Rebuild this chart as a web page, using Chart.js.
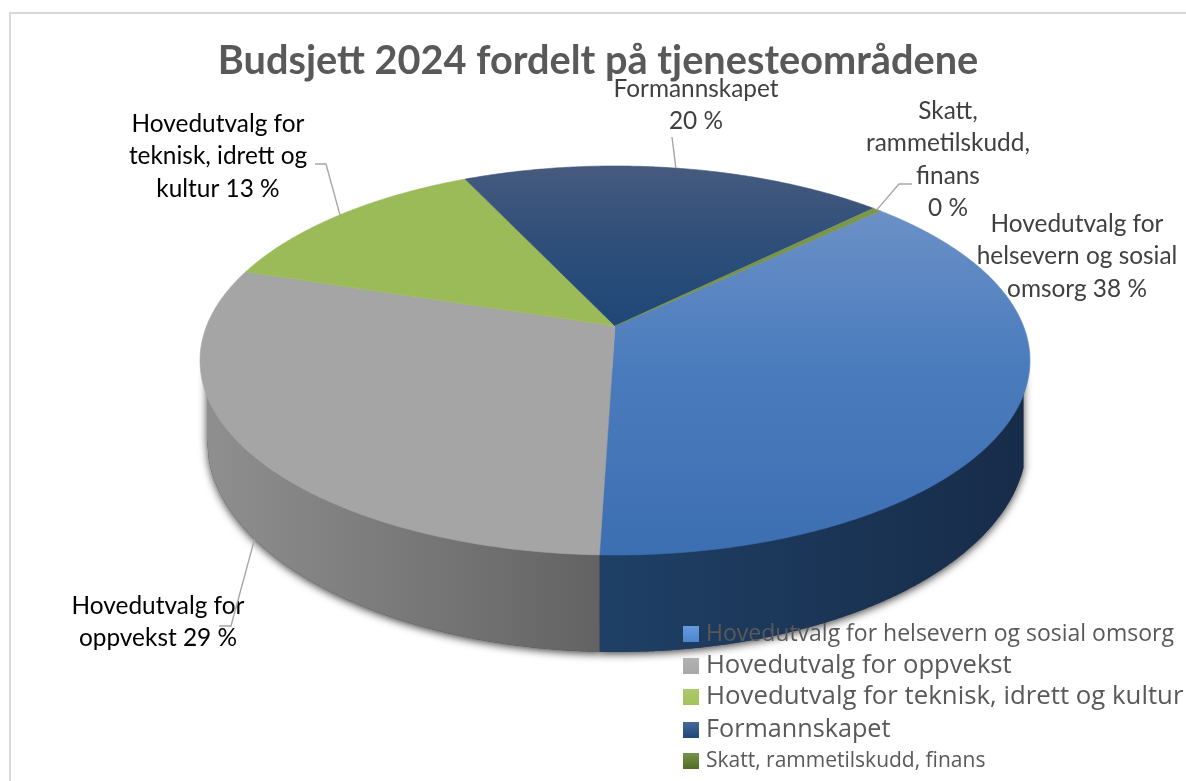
<!DOCTYPE html>
<html>
<head>
<meta charset="utf-8">
<style>
	html, body { margin: 0; padding: 0; background: #fff; overflow: hidden; }
	canvas { display: block; }
</style>
<script src="https://cdn.jsdelivr.net/npm/chart.js@4"></script>
</head>
<body>
<canvas id="myChart" width="1186" height="781"></canvas>
<script>
// the labels round them to whole percent
const categories = [
	"Hovedutvalg for helsevern og sosial omsorg",
	"Hovedutvalg for oppvekst",
	"Hovedutvalg for teknisk, idrett og kultur",
	"Formannskapet",
	"Skatt, rammetilskudd, finans",
];
const shares = [37.5, 29.4, 13.1, 19.6, 0.4];
const chartTitle = "Budsjett 2024 fordelt på tjenesteområdene";

const topColors = [
	["#6b90c6", "#4a7cbd", "#3c6eb2"],
	["#a5a5a5", "#a5a5a5", "#a5a5a5"],
	["#9bbb59", "#9bbb59", "#9bbb59"],
	["#465a7e", "#2f4f7a", "#1f4777"],
	["#7a9650", "#72903f", "#6a8a3f"],
];
const wallColors = [
	["#1f4066", "#172c49"],
	["#8f8f8f", "#636363"],
	["#6f8a3f", "#5a7030"],
	["#1f3f66", "#172c49"],
	["#4f6e23", "#4f6e23"],
];
const swatchColors = [
	["#659ae0", "#4d86cf"],
	["#b2b2b2", "#a8a8a8"],
	["#abc968", "#a3c45c"],
	["#46699c", "#1f4777"],
	["#76934a", "#4f6e23"],
];

// label text per slice, split the same way as in the picture
const labelLines = [
	["Hovedutvalg for", "helsevern og sosial", "omsorg"],
	["Hovedutvalg for", "oppvekst"],
	["Hovedutvalg for", "teknisk, idrett og", "kultur"],
	["Formannskapet"],
	["Skatt,", "rammetilskudd,", "finans"],
];
const labelX = [1077, 158, 218, 696, 948];
const labelY = [224, 606, 124, 89, 111];
const labelInk = ["#404040", "#000000", "#000000", "#404040", "#404040"];
// second point of the leader line and where it leaves the label, null for none
const elbows = [null, [231, 626, 219], [326, 164, 315], [672, 137, 672], [899, 184, 912]];

const legendFontSize = [23, 25.6, 25.8, 25.2, 21];
const legendY = [634, 666, 697, 730, 761];

// perspective of the top face: unit circle to picture
const top3d = { cx: 615, cy: 326, a: 408.4, b: 188.4, p: -0.1773 };
// lower edge of the wall
const rim = { cx: 617, cy: 440, rx: 410, ry: 212 };

function project(angle) {
	const x = Math.cos(angle);
	const y = Math.sin(angle);
	const w = 1 + top3d.p * y;
	return { x: top3d.cx + (top3d.a * x) / w, y: top3d.cy + (top3d.b * y) / w };
}

function rimY(x) {
	const u = Math.min(1, Math.abs(x - rim.cx) / rim.rx);
	return rim.cy + rim.ry * Math.sqrt(1 - u * u);
}

function wallPath(ctx, left, right) {
	ctx.beginPath();
	ctx.moveTo(left, 370);
	for (let x = left; x <= right; x += 2) ctx.lineTo(x, rimY(x));
	ctx.lineTo(right, rimY(right));
	ctx.lineTo(right, 370);
	ctx.closePath();
}

function wallSpan(arc) {
	// only the part of the rim that faces us
	const from = Math.max(arc.startAngle, 0);
	const to = Math.min(arc.endAngle, Math.PI);
	if (to <= from) return null;
	return {
		left: Math.max(project(to).x, rim.cx - rim.rx),
		right: Math.min(project(from).x, rim.cx + rim.rx),
	};
}

function drawWallShadow(ctx, arc) {
	const span = wallSpan(arc);
	if (!span) return;
	ctx.save();
	ctx.shadowColor = "rgba(0,0,0,0.75)";
	ctx.shadowBlur = 9;
	ctx.shadowOffsetY = 2;
	ctx.fillStyle = "#444";
	wallPath(ctx, span.left, span.right);
	ctx.fill();
	ctx.restore();
}

function drawWall(ctx, arc, i) {
	const span = wallSpan(arc);
	if (!span) return;
	const grad = ctx.createLinearGradient(span.left, 0, span.right, 0);
	grad.addColorStop(0, wallColors[i][0]);
	grad.addColorStop(1, wallColors[i][1]);
	ctx.fillStyle = grad;
	wallPath(ctx, span.left, span.right);
	ctx.fill();
}

function drawTop(ctx, arc, i) {
	const grad = ctx.createLinearGradient(0, i === 3 ? 168 : 212, 0, i === 3 ? 326 : 555);
	grad.addColorStop(0, topColors[i][0]);
	grad.addColorStop(0.45, topColors[i][1]);
	grad.addColorStop(1, topColors[i][2]);
	ctx.fillStyle = grad;
	ctx.strokeStyle = grad;
	ctx.lineWidth = 0.6;
	ctx.beginPath();
	ctx.moveTo(top3d.cx, top3d.cy);
	const steps = Math.max(2, Math.ceil((arc.endAngle - arc.startAngle) * 120));
	for (let s = 0; s <= steps; s++) {
		const pt = project(arc.startAngle + ((arc.endAngle - arc.startAngle) * s) / steps);
		ctx.lineTo(pt.x, pt.y);
	}
	ctx.closePath();
	ctx.fill();
	ctx.stroke();
}

function drawLabels(ctx, arcs) {
	ctx.textAlign = "center";
	ctx.textBaseline = "middle";
	arcs.forEach((arc, i) => {
		const lines = labelLines[i].slice();
		const pct = Math.round(shares[i]) + " %";
		// short labels get the percent on a line of its own
		if (i === 3 || i === 4) lines.push(pct);
		else lines[lines.length - 1] += " " + pct;

		ctx.font = "24.4px Lato";
		ctx.fillStyle = labelInk[i];
		lines.forEach((line, n) => ctx.fillText(line, labelX[i], labelY[i] + n * 32.5));

		if (!elbows[i]) return;
		const mid = project((arc.startAngle + arc.endAngle) / 2);
		const endY = i === 1 ? rimY(mid.x + 11) : mid.y;
		const endX = i === 1 ? mid.x + 11 : mid.x;
		ctx.strokeStyle = "#a6a6a6";
		ctx.lineWidth = 1.4;
		ctx.beginPath();
		ctx.moveTo(elbows[i][2], elbows[i][1]);
		ctx.lineTo(elbows[i][0], elbows[i][1]);
		ctx.lineTo(endX, endY);
		ctx.stroke();
	});
}

function drawLegend(ctx) {
	ctx.textAlign = "left";
	ctx.textBaseline = "middle";
	categories.forEach((name, i) => {
		const grad = ctx.createLinearGradient(0, legendY[i] - 8, 0, legendY[i] + 8);
		grad.addColorStop(0, swatchColors[i][0]);
		grad.addColorStop(1, swatchColors[i][1]);
		ctx.fillStyle = grad;
		ctx.fillRect(683, legendY[i] - 8, 16, 16);
		ctx.font = legendFontSize[i] + 'px "Open Sans"';
		ctx.fillStyle = "#595959";
		ctx.fillText(name, 706, legendY[i]);
	});
}

const pie3d = {
	id: "pie3d",
	beforeDraw(chart) {
		const ctx = chart.ctx;
		ctx.save();
		ctx.strokeStyle = "#d9d9d9";
		ctx.lineWidth = 2;
		ctx.strokeRect(10, 13, 1300, 1300);
		ctx.restore();
	},
	// the flat arcs are replaced by the tilted version of the same angles
	beforeDatasetsDraw(chart) {
		const ctx = chart.ctx;
		const arcs = chart.getDatasetMeta(0).data;
		ctx.save();
		arcs.forEach((arc) => drawWallShadow(ctx, arc));
		arcs.forEach((arc, i) => drawWall(ctx, arc, i));
		arcs.forEach((arc, i) => drawTop(ctx, arc, i));
		drawLabels(ctx, arcs);
		drawLegend(ctx);
		ctx.restore();
		return false;
	},
};

new Chart(document.getElementById("myChart").getContext("2d"), {
	type: "pie",
	data: {
		labels: categories,
		datasets: [{ data: shares, borderWidth: 0 }],
	},
	options: {
		responsive: false,
		animation: false,
		rotation: 46.8,
		layout: { padding: { left: 10, top: 0 } },
		plugins: {
			legend: { display: false },
			tooltip: { enabled: false },
			title: {
				display: true,
				text: chartTitle,
				color: "#595959",
				font: { family: "Lato", size: 39.7, weight: "bold" },
				padding: { top: 37, bottom: 10 },
			},
		},
	},
	plugins: [pie3d],
});
</script>
</body>
</html>
